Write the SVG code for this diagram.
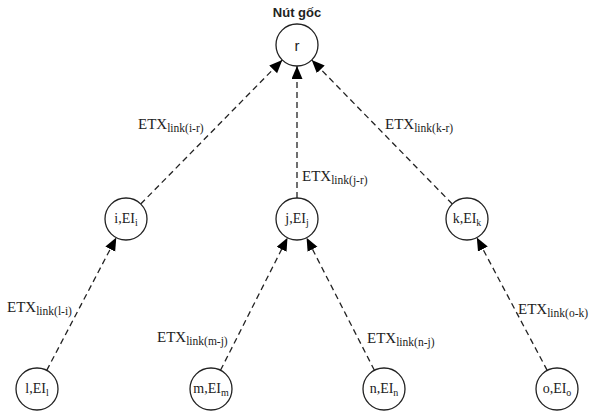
<svg xmlns="http://www.w3.org/2000/svg" width="590" height="416" viewBox="0 0 590 416">
  <style>
    .node circle { fill: #ffffff; stroke: #222222; stroke-width: 1.3; }
    .lbl { font-family: "Liberation Serif", "Times New Roman", "DejaVu Serif", serif; font-size: 14px; fill: #222222; text-anchor: middle; }
    .sub { font-size: 10px; }
    .edge { stroke: #222222; stroke-width: 1.3; stroke-dasharray: 6 4; fill: none; marker-end: url(#arrow); }
    .etx { font-family: "Liberation Serif", "Times New Roman", "DejaVu Serif", serif; font-size: 15px; fill: #222222; }
    .etx tspan { font-size: 11.5px; }
    .title { font-family: "Liberation Sans", Arial, sans-serif; font-weight: bold; font-size: 13px; fill: #222222; text-anchor: middle; }
    .root-lbl { font-family: "Liberation Sans", Arial, sans-serif; font-size: 15px; fill: #222222; text-anchor: middle; }
  </style>
  <defs>
    <marker id="arrow" markerUnits="userSpaceOnUse" markerWidth="14" markerHeight="12" refX="13" refY="5.5" orient="auto">
      <path d="M0,0 L13,5.5 L0,11 Z" fill="#000000"/>
    </marker>
  </defs>

  <rect width="590" height="416" fill="#ffffff"/>

  <!-- connectors: child to parent -->
  <g id="connectors">
    <line class="edge" x1="140.7" y1="204" x2="282.3" y2="60"/>
    <line class="edge" x1="297" y1="198" x2="297" y2="66"/>
    <line class="edge" x1="452.3" y1="204" x2="311.7" y2="60"/>
    <line class="edge" x1="46.7" y1="370.4" x2="116.3" y2="237.6"/>
    <line class="edge" x1="220.5" y1="370.3" x2="287.5" y2="237.7"/>
    <line class="edge" x1="374.4" y1="370.3" x2="306.6" y2="237.7"/>
    <line class="edge" x1="547.2" y1="370.4" x2="476.8" y2="237.6"/>

    <text class="etx" x="138" y="129">ETX<tspan dy="3">link(i-r)</tspan></text>
    <text class="etx" x="302" y="181">ETX<tspan dy="3">link(j-r)</tspan></text>
    <text class="etx" x="385" y="129">ETX<tspan dy="3">link(k-r)</tspan></text>
    <text class="etx" x="7" y="312">ETX<tspan dy="3">link(l-i)</tspan></text>
    <text class="etx" x="157" y="342">ETX<tspan dy="3">link(m-j)</tspan></text>
    <text class="etx" x="367" y="343">ETX<tspan dy="3">link(n-j)</tspan></text>
    <text class="etx" x="518" y="314">ETX<tspan dy="3">link(o-k)</tspan></text>
  </g>

  <!-- root -->
  <g id="node-r" class="node">
    <text class="title" x="297" y="17">Nút gốc</text>
    <circle cx="297" cy="45" r="21"/>
    <text class="root-lbl" x="297" y="51">r</text>
  </g>

  <!-- middle level -->
  <g id="node-i" class="node">
    <circle cx="126" cy="219" r="21"/>
    <text class="lbl" x="126" y="223">i,EI<tspan class="sub" dy="3">i</tspan></text>
  </g>
  <g id="node-j" class="node">
    <circle cx="297" cy="219" r="21"/>
    <text class="lbl" x="297" y="223">j,EI<tspan class="sub" dy="3">j</tspan></text>
  </g>
  <g id="node-k" class="node">
    <circle cx="467" cy="219" r="21"/>
    <text class="lbl" x="467" y="223">k,EI<tspan class="sub" dy="3">k</tspan></text>
  </g>

  <!-- leaves -->
  <g id="node-l" class="node">
    <circle cx="37" cy="389" r="21"/>
    <text class="lbl" x="37" y="393">l,EI<tspan class="sub" dy="3">l</tspan></text>
  </g>
  <g id="node-m" class="node">
    <circle cx="211" cy="389" r="21"/>
    <text class="lbl" x="211" y="393">m,EI<tspan class="sub" dy="3">m</tspan></text>
  </g>
  <g id="node-n" class="node">
    <circle cx="384" cy="389" r="21"/>
    <text class="lbl" x="384" y="393">n,EI<tspan class="sub" dy="3">n</tspan></text>
  </g>
  <g id="node-o" class="node">
    <circle cx="557" cy="389" r="21"/>
    <text class="lbl" x="557" y="393">o,EI<tspan class="sub" dy="3">o</tspan></text>
  </g>
</svg>
